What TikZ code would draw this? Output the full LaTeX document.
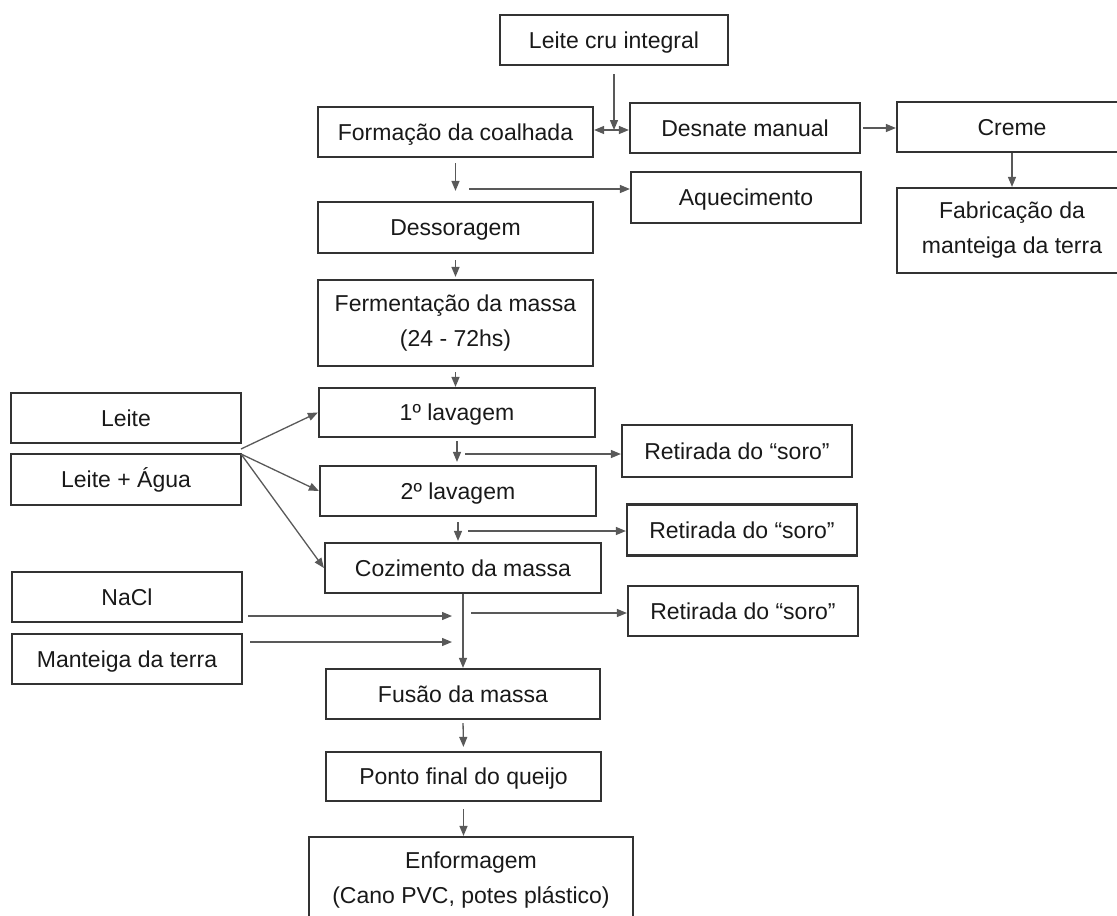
\documentclass[tikz,border=0pt]{standalone}
\usepackage{fontspec}
\setmainfont{Liberation Sans}
\usetikzlibrary{arrows.meta}
\tikzset{caixa/.style = {draw=black!80, line width=2.2pt, inner sep=0pt,
                         align=center, text=black!90,
                         font=\fontsize{23}{35}\selectfont,
                         execute at begin node={\rule[-5pt]{0pt}{26pt}},
                         execute at end node={\rule[-5pt]{0pt}{5pt}}}}
\tikzset{seta/.style = {-{Triangle[length=10pt,width=8pt]},
                        draw=black!65, line width=1.3pt}}
\begin{document}
\begin{tikzpicture}[x=1pt,y=-1pt]
      \useasboundingbox (0,0) rectangle (1117,916);
      \clip (0,0) rectangle (1117,916);
      \node[caixa, minimum width=228, minimum height=50] (leitecru) at (614,40) {Leite cru integral};
      \node[caixa, minimum width=275, minimum height=50] (coalhada) at (455.5,132) {Formação da coalhada};
      \node[caixa, minimum width=230, minimum height=50] (desnate) at (745,128) {Desnate manual};
      \node[caixa, minimum width=230, minimum height=50] (creme) at (1012,127) {Creme};
      \node[caixa, minimum width=230, minimum height=51] (aquec) at (746,197.5) {Aquecimento};
      \node[caixa, minimum width=230, minimum height=85] (fabric) at (1012,230.5) {Fabricação da\\manteiga da terra};
      \node[caixa, minimum width=275, minimum height=51] (dessor) at (455.5,227.5) {Dessoragem};
      \node[caixa, minimum width=275, minimum height=86] (ferment) at (455.5,323) {Fermentação da massa\\(24 - 72hs)};
      \node[caixa, minimum width=276, minimum height=49] (lav1) at (457,412.5) {1º lavagem};
      \node[caixa, minimum width=230, minimum height=52] (ret1) at (737,451) {Retirada do “soro”};
      \node[caixa, minimum width=276, minimum height=50] (lav2) at (458,491) {2º lavagem};
      \node[caixa, minimum width=230, minimum height=51] (ret2) at (742,530) {Retirada do “soro”};
      \node[caixa, minimum width=276, minimum height=50] (cozim) at (463,568) {Cozimento da massa};
      \node[caixa, minimum width=230, minimum height=50] (ret3) at (743,611) {Retirada do “soro”};
      \node[caixa, minimum width=230, minimum height=50] (leite) at (126,418) {Leite};
      \node[caixa, minimum width=230, minimum height=51] (agua) at (126,479.5) {Leite + Água};
      \node[caixa, minimum width=230, minimum height=50] (nacl) at (127,597) {NaCl};
      \node[caixa, minimum width=230, minimum height=50] (mant) at (127,659) {Manteiga da terra};
      \node[caixa, minimum width=274, minimum height=50] (fusao) at (463,694) {Fusão da massa};
      \node[caixa, minimum width=275, minimum height=49] (ponto) at (463.5,776.5) {Ponto final do queijo};
      \node[caixa, minimum width=324, minimum height=86] (enform) at (471,880) {Enformagem\\(Cano PVC, potes plástico)};
      \coordinate (j1) at (614,130);
      \draw[seta, shorten <=8pt] (leitecru.south) -- (j1);
      \draw[seta] (j1) -- (j1 -| coalhada.east);
      \draw[seta] (j1) -- (j1 -| desnate.west);
      \draw[seta, shorten <=2pt] (desnate.east) -- (desnate.east -| creme.west);
      \draw[seta] (creme.south) -- (fabric.north);
      \draw[seta, shorten <=5pt, shorten >=10pt] (coalhada.south) -- (dessor.north);
      \coordinate (b1) at (469,189);
      \draw[seta] (b1) -- (b1 -| aquec.west);
      \draw[seta, shorten <=6pt, shorten >=2pt] (dessor.south) -- (ferment.north);
      \draw[seta, shorten <=5pt] (ferment.south) -- (ferment.south |- lav1.north);
      \draw[seta, shorten <=3pt, shorten >=3pt] (lav1.south) -- (lav1.south |- lav2.north);
      \coordinate (b2) at (465,454);
      \draw[seta] (b2) -- (b2 -| ret1.west);
      \draw[seta, shorten <=5pt, shorten >=1pt] (lav2.south) -- (lav2.south |- cozim.north);
      \coordinate (b3) at (468,531);
      \draw[seta] (b3) -- (b3 -| ret2.west);
      \draw[seta] (cozim.south) -- (fusao.north);
      \coordinate (b4) at (471,613);
      \draw[seta] (b4) -- (b4 -| ret3.west);
      \coordinate (n1) at (452,616);
      \coordinate (m1) at (452,642);
      \draw[seta, shorten <=5pt] (n1 -| nacl.east) -- (n1);
      \draw[seta, shorten <=7pt] (m1 -| mant.east) -- (m1);
      \draw[seta, shorten <=3pt, shorten >=4pt] (fusao.south) -- (ponto.north);
      \draw[seta, shorten <=7pt] (ponto.south) -- (ponto.south |- enform.north);
      \coordinate (f1) at (241,449);
      \coordinate (f2) at (241,454);
      \draw[seta] (f1) -- (lav1.west);
      \draw[seta] (f2) -- (lav2.west);
      \draw[seta] (f2) -- (cozim.west);
    \end{tikzpicture}
\end{document}
